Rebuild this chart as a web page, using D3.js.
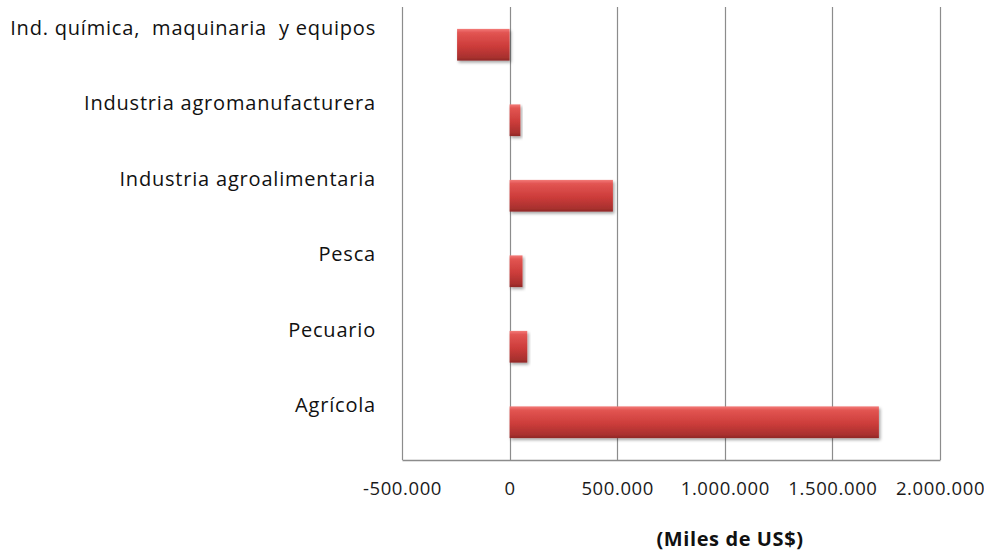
<!DOCTYPE html>
<html>
<head>
<meta charset="utf-8">
<script src="https://cdn.jsdelivr.net/npm/d3@7"></script>
<style>
  body { margin: 0; background: #fff; }
  svg { display: block; font-family: "Open Sans", sans-serif; }
</style>
</head>
<body>
<svg id="chart" width="984" height="553"></svg>
<script>
// categories top to bottom
const categories = [
  "Ind. química,  maquinaria  y equipos",
  "Industria agromanufacturera",
  "Industria agroalimentaria",
  "Pesca",
  "Pecuario",
  "Agrícola"
];
// values in miles de US$
const values = [-244000, 50000, 480000, 60000, 82000, 1716000];
const tickValues = [-500000, 0, 500000, 1000000, 1500000, 2000000];
const tickLabels = ["-500.000", "0", "500.000", "1.000.000", "1.500.000", "2.000.000"];
const axisTitle = "(Miles de US$)";

const margin = { top: 7, right: 44, bottom: 93, left: 402 };
const W = 984, H = 553;
const width = W - margin.left - margin.right;
const height = H - margin.top - margin.bottom;

const svg = d3.select("#chart");

// bar gradient + shadow
const defs = svg.append("defs");
const grad = defs.append("linearGradient")
  .attr("id", "barGrad").attr("x1", 0).attr("y1", 0).attr("x2", 0).attr("y2", 1);
grad.append("stop").attr("offset", "0%").attr("stop-color", "#f37a78");
grad.append("stop").attr("offset", "12%").attr("stop-color", "#e25552");
grad.append("stop").attr("offset", "55%").attr("stop-color", "#cc3c3a");
grad.append("stop").attr("offset", "90%").attr("stop-color", "#a8302e");
grad.append("stop").attr("offset", "100%").attr("stop-color", "#8e2826");

const shadow = defs.append("filter").attr("id", "shadow")
  .attr("x", "-10%").attr("y", "-20%").attr("width", "130%").attr("height", "160%");
shadow.append("feDropShadow")
  .attr("dx", 1.5).attr("dy", 2).attr("stdDeviation", 1.5)
  .attr("flood-color", "#000").attr("flood-opacity", 0.35);

const g = svg.append("g").attr("transform", `translate(${margin.left},${margin.top})`);

const x = d3.scaleLinear().domain([-500000, 2000000]).range([0, width]);
const y = d3.scaleBand().domain(categories).range([0, height]).paddingInner(0.58).paddingOuter(0.29);

// gridlines
g.selectAll("line.grid")
  .data(tickValues)
  .enter().append("line")
  .attr("class", "grid")
  .attr("x1", d => Math.round(x(d)) + 0.5)
  .attr("x2", d => Math.round(x(d)) + 0.5)
  .attr("y1", 0).attr("y2", height)
  .attr("stroke", "#8c8c8c").attr("stroke-width", 1.2);

// bottom axis
const xAxis = g.append("g")
  .attr("transform", `translate(0,${height})`)
  .call(d3.axisBottom(x).tickValues(tickValues).tickSize(0).tickPadding(22)
    .tickFormat((d, i) => tickLabels[i]));
xAxis.select(".domain").attr("stroke", "#8c8c8c").attr("stroke-width", 1.5);
xAxis.selectAll("text")
  .attr("fill", "#1a1a1a")
  .style("font-size", "18.5px")
  .style("letter-spacing", "0.6px")
  .style("font-family", "'Open Sans', sans-serif");

// category labels (sit above the bar, right aligned)
g.selectAll("text.cat")
  .data(categories)
  .enter().append("text")
  .attr("class", "cat")
  .attr("x", -26)
  .attr("y", d => y(d) + y.bandwidth() / 2 - 10)
  .attr("text-anchor", "end")
  .attr("fill", "#111")
  .style("font-size", "20px")
  .style("letter-spacing", "0.8px")
  .style("white-space", "pre")
  .text(d => d);

// bars
g.selectAll("rect.bar")
  .data(values)
  .enter().append("rect")
  .attr("class", "bar")
  .attr("x", d => x(Math.min(0, d)))
  .attr("y", (d, i) => y(categories[i]))
  .attr("width", d => Math.abs(x(d) - x(0)))
  .attr("height", y.bandwidth())
  .attr("fill", "url(#barGrad)")
  .attr("filter", "url(#shadow)");

// axis title
svg.append("text")
  .attr("x", 730)
  .attr("y", 546)
  .attr("text-anchor", "middle")
  .attr("fill", "#111")
  .style("font-size", "20px")
  .style("letter-spacing", "0.6px")
  .style("font-weight", "bold")
  .text(axisTitle);
</script>
</body>
</html>
